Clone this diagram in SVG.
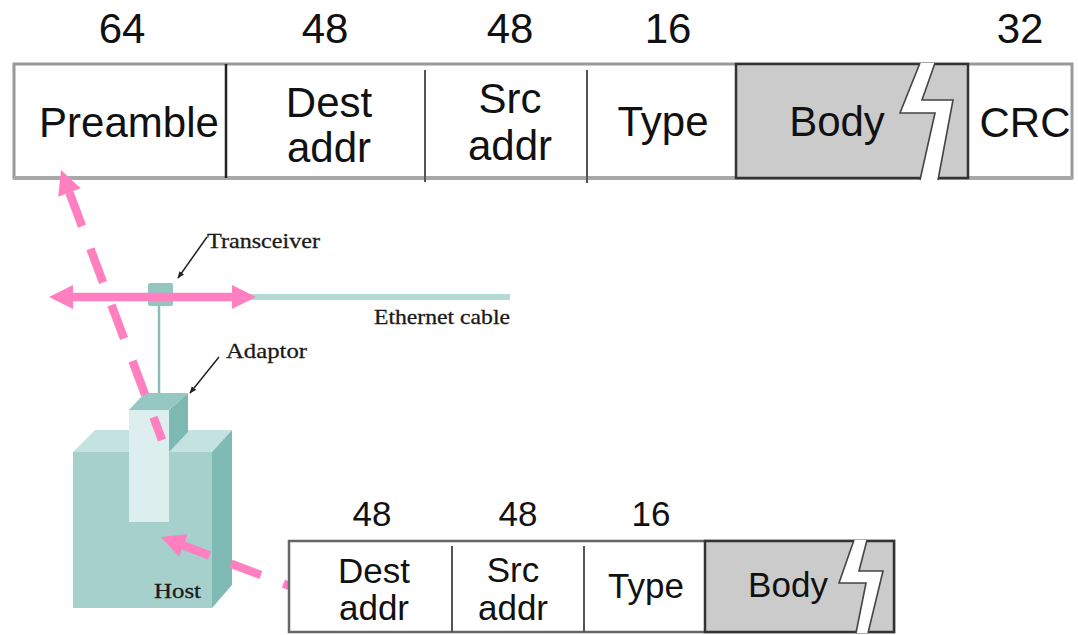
<svg xmlns="http://www.w3.org/2000/svg" width="1078" height="635" viewBox="0 0 1078 635">
  <style>
    .num { font-family: "Liberation Sans", Arial, sans-serif; fill: #111; text-anchor: middle; }
    .fld { font-family: "Liberation Sans", Arial, sans-serif; fill: #111; text-anchor: middle; }
    .lbl { font-family: "Liberation Serif", "DejaVu Serif", serif; fill: #1a1a1a; stroke: #1a1a1a; stroke-width: 0.3; }
    .frame { fill: #fff; }
    .body { fill: #cbcbcb; stroke: #333; stroke-width: 2.5; }
    .div { stroke: #222; stroke-width: 2.5; }
    .divg { stroke: #555; stroke-width: 2; }
    .bolt { fill: #fff; stroke: none; }
    .boltedge { fill: none; stroke: #444; stroke-width: 1.6; stroke-linejoin: miter; }
    .pink { stroke: #ff7fc0; stroke-width: 8.5; fill: none; }
    .pinkhead { fill: #ff7fc0; }
    .ptr { stroke: #222; stroke-width: 1.5; fill: none; }
  </style>
  <defs>
    <marker id="ptrHead" viewBox="0 0 10 10" refX="9" refY="5" markerWidth="7" markerHeight="7" orient="auto" markerUnits="userSpaceOnUse">
      <path d="M0,1 L10,5 L0,9 Z" fill="#222"/>
    </marker>
  </defs>

  <!-- Network illustration -->
  <g id="cable">
    <line x1="56" y1="297" x2="510" y2="297" stroke="#b5d9d5" stroke-width="6"/>
  </g>
  <g id="transceiver">
    <line x1="159" y1="306" x2="159" y2="396" stroke="#8cbcb7" stroke-width="2.5"/>
    <rect x="148" y="283" width="25" height="23" rx="2" fill="#93c6c1"/>
  </g>
  <g id="host">
    <polygon points="73,452 95,430 232,430 212,452" fill="#c4e2df"/>
    <polygon points="212,452 232,430 232,585 212,608" fill="#80bab5"/>
    <rect x="73" y="452" width="139" height="156" fill="#a6d0cc"/>
    <text class="lbl" x="154" y="598" font-size="22" textLength="47" lengthAdjust="spacingAndGlyphs">Host</text>
  </g>
  <g id="adaptor">
    <polygon points="169,410 188,393 188,432 169,452" fill="#7db9b3"/>
    <polygon points="129,410 145,393 188,393 169,410" fill="#96c8c3"/>
    <rect x="129" y="410" width="40" height="112" fill="#dcefee"/>
  </g>
  <g id="labels">
    <text class="lbl" x="207" y="248" font-size="21" textLength="113" lengthAdjust="spacingAndGlyphs">Transceiver</text>
    <text class="lbl" x="374" y="324" font-size="21" textLength="136" lengthAdjust="spacingAndGlyphs">Ethernet cable</text>
    <text class="lbl" x="226" y="358" font-size="22" textLength="81" lengthAdjust="spacingAndGlyphs">Adaptor</text>
    <line class="ptr" x1="207" y1="237" x2="178" y2="278" marker-end="url(#ptrHead)"/>
    <line class="ptr" x1="219" y1="357" x2="190" y2="393" marker-end="url(#ptrHead)"/>
  </g>

  <!-- Full frame -->
  <g id="frame-full">
    <rect class="frame" x="14" y="64" width="1058" height="114" stroke="#9a9a9a" stroke-width="3"/>
    <line x1="14" y1="178" x2="1072" y2="178" stroke="#a8a8a8" stroke-width="4"/>
    <line class="div" x1="226" y1="64" x2="226" y2="178"/>
    <line class="divg" x1="425" y1="70" x2="425" y2="182"/>
    <line class="divg" x1="587" y1="70" x2="587" y2="183" stroke="#777"/>
    <rect class="body" x="736" y="64" width="232" height="114"/>
    <polygon class="bolt" points="920,63 935,63 922,100 953,100 938,180 920,180 935,113 900,113"/>
    <polyline class="boltedge" points="920,63 900,113 935,113 920,180"/>
    <polyline class="boltedge" points="935,63 922,100 953,100 938,180"/>

    <text class="num" x="122" y="43" font-size="42">64</text>
    <text class="num" x="325" y="43" font-size="42">48</text>
    <text class="num" x="510" y="43" font-size="42">48</text>
    <text class="num" x="668" y="43" font-size="42">16</text>
    <text class="num" x="1020" y="43" font-size="42">32</text>

    <text class="fld" x="129" y="137" font-size="42">Preamble</text>
    <text class="fld" x="329" y="117" font-size="42">Dest</text>
    <text class="fld" x="329" y="162" font-size="42">addr</text>
    <text class="fld" x="510" y="113" font-size="42">Src</text>
    <text class="fld" x="510" y="160" font-size="42">addr</text>
    <text class="fld" x="663" y="136" font-size="42">Type</text>
    <text class="fld" x="837" y="136" font-size="42">Body</text>
    <text class="fld" x="1025" y="137" font-size="42">CRC</text>
  </g>

  <!-- Pink signal arrows -->
  <g id="connectors">
    <line class="pink" x1="70" y1="297" x2="235" y2="297"/>
    <polygon class="pinkhead" points="49,297 73,285 73,309"/>
    <polygon class="pinkhead" points="256,297 232,285 232,309"/>

    <polygon class="pinkhead" points="61,170 80.6,188.3 58.2,196.7"/>
    <line class="pink" x1="69.4" y1="192.5" x2="162" y2="440" stroke-dasharray="36 24"/>

    <polygon class="pinkhead" points="161,537 187.7,534.3 179.1,556.7"/>
    <line class="pink" x1="183.4" y1="545.5" x2="300" y2="590" stroke-dasharray="28 23 32 24"/>
  </g>

  <!-- Frame as seen by the host -->
  <g id="frame-host">
    <rect class="frame" x="289" y="541" width="605" height="91" stroke="#666" stroke-width="2.5"/>
    <line class="divg" x1="452" y1="546" x2="452" y2="632"/>
    <line class="divg" x1="584" y1="546" x2="584" y2="632"/>
    <rect class="body" x="705" y="541" width="189" height="91"/>
    <polygon class="bolt" points="854,540 867,540 859,571 883,571 868,633 856,633 866,583 839,583"/>
    <polyline class="boltedge" points="854,540 839,583 866,583 856,633"/>
    <polyline class="boltedge" points="867,540 859,571 883,571 868,633"/>

    <text class="num" x="372" y="526" font-size="35">48</text>
    <text class="num" x="518" y="526" font-size="35">48</text>
    <text class="num" x="651" y="526" font-size="35">16</text>

    <text class="fld" x="374" y="583" font-size="35">Dest</text>
    <text class="fld" x="374" y="620" font-size="35">addr</text>
    <text class="fld" x="513" y="582" font-size="35">Src</text>
    <text class="fld" x="513" y="620" font-size="35">addr</text>
    <text class="fld" x="646" y="598" font-size="35">Type</text>
    <text class="fld" x="788" y="597" font-size="35">Body</text>
  </g>
</svg>
